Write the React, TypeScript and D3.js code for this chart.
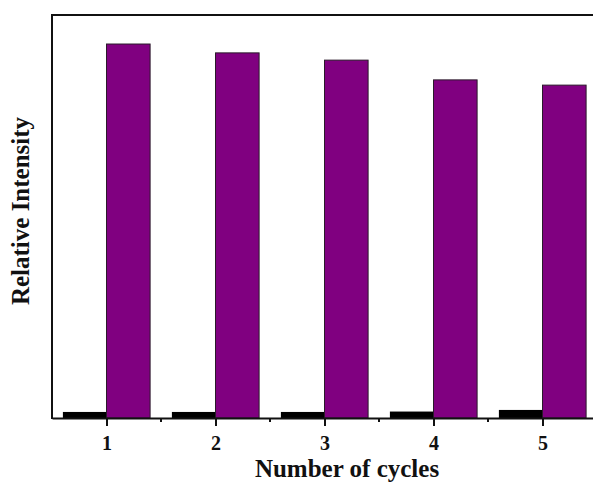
import React, { useEffect, useRef } from "react"
import * as d3 from "d3"

const cycles = [1, 2, 3, 4, 5]
const controlValues = [0.015, 0.015, 0.015, 0.016, 0.02]
const sampleValues = [0.928, 0.906, 0.888, 0.839, 0.826]
const tickLabels = ["1", "2", "3", "4", "5"]

const W = 593
const H = 484

export default function App() {
  const ref = useRef<SVGSVGElement>(null)

  useEffect(() => {
    const svg = d3.select(ref.current)
    svg.selectAll("*").remove()

    const left = 52
    const top = 15
    const bottom = 418
    const x = d3.scaleLinear().domain([0.5, 5.5]).range([left, left + 5 * 109])
    const y = d3.scaleLinear().domain([0, 1]).range([bottom, top])
    const bw = 0.4 // bar width in cycle units

    const g = svg.append("g")

    // control bars (black), left of the tick
    g.selectAll(".ctrl")
      .data(cycles)
      .enter()
      .append("rect")
      .attr("x", d => x(d - bw))
      .attr("y", (d, i) => y(controlValues[i]))
      .attr("width", d => x(d) - x(d - bw))
      .attr("height", (d, i) => bottom - y(controlValues[i]))
      .attr("fill", "#000")

    // sample bars (purple), right of the tick
    g.selectAll(".samp")
      .data(cycles)
      .enter()
      .append("rect")
      .attr("x", d => x(d))
      .attr("y", (d, i) => y(sampleValues[i]))
      .attr("width", d => x(d + bw) - x(d))
      .attr("height", (d, i) => bottom - y(sampleValues[i]))
      .attr("fill", "#800080")
      .attr("stroke", "#2a1a2a")
      .attr("stroke-width", 1)

    // frame: top and left
    svg.append("line")
      .attr("x1", left).attr("x2", W).attr("y1", top).attr("y2", top)
      .attr("stroke", "#111").attr("stroke-width", 2)
    svg.append("line")
      .attr("x1", left).attr("x2", left).attr("y1", top - 1).attr("y2", bottom + 1)
      .attr("stroke", "#111").attr("stroke-width", 2)

    // bottom axis
    const xAxis = d3.axisBottom(x)
      .tickValues(cycles)
      .tickFormat((d, i) => tickLabels[i])
      .tickSize(8)
      .tickSizeOuter(0)
      .tickPadding(10)
    const ax = svg.append("g")
      .attr("transform", "translate(0," + bottom + ")")
      .call(xAxis)
    ax.select(".domain").attr("stroke", "#111").attr("stroke-width", 2)
    ax.selectAll(".tick line").attr("stroke", "#111").attr("stroke-width", 2)
    ax.selectAll(".tick text")
      .attr("fill", "#111")
      .style("font-family", "'Liberation Serif', 'Times New Roman', serif")
      .style("font-weight", "bold")
      .style("font-size", "20px")

    // minor ticks
    svg.append("g")
      .selectAll("line")
      .data([1.5, 2.5, 3.5, 4.5])
      .enter()
      .append("line")
      .attr("x1", d => x(d)).attr("x2", d => x(d))
      .attr("y1", bottom).attr("y2", bottom + 4)
      .attr("stroke", "#111").attr("stroke-width", 2)

    svg.append("text")
      .text("Number of cycles")
      .attr("x", 347).attr("y", 477)
      .attr("text-anchor", "middle")
      .attr("fill", "#111")
      .style("font-family", "'Liberation Serif', 'Times New Roman', serif")
      .style("font-weight", "bold")
      .style("font-size", "25px")

    svg.append("text")
      .text("Relative Intensity")
      .attr("transform", "translate(29,211) rotate(-90)")
      .attr("text-anchor", "middle")
      .attr("fill", "#111")
      .style("font-family", "'Liberation Serif', 'Times New Roman', serif")
      .style("font-weight", "bold")
      .style("font-size", "25px")
  }, [])

  return (
    <svg
      ref={ref}
      width={W}
      height={H}
      style={{ position: "absolute", left: 0, top: 0, background: "#fff" }}
    />
  )
}
